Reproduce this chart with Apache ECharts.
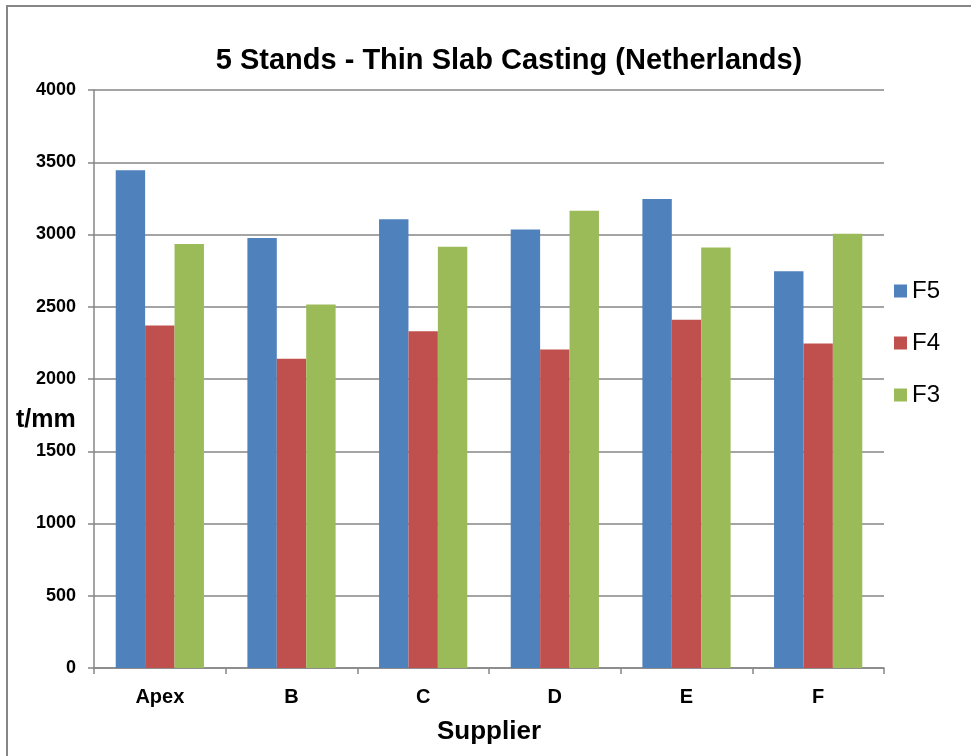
<!DOCTYPE html>
<html>
<head>
<meta charset="utf-8">
<script src="https://cdn.jsdelivr.net/npm/echarts@6/dist/echarts.min.js"></script>
<style>html,body{margin:0;padding:0;background:#fff}#c{width:971px;height:756px}</style>
</head>
<body>
<div id="c"></div>
<script>
const categories = ['Apex', 'B', 'C', 'D', 'E', 'F'];
const f5 = [3445, 2975, 3105, 3035, 3245, 2745];
const f4 = [2370, 2140, 2330, 2205, 2410, 2245];
const f3 = [2935, 2515, 2915, 3165, 2910, 3005];
const yTicks = [0, 500, 1000, 1500, 2000, 2500, 3000, 3500, 4000];

const chart = echarts.init(document.getElementById('c'), null, {renderer: 'canvas'});
const font = 'Arial, "Liberation Sans", sans-serif';
chart.setOption({
  animation: false,
  backgroundColor: '#fff',
  title: {
    text: '5 Stands - Thin Slab Casting (Netherlands)',
    left: 509, top: 46, textAlign: 'center', padding: 0,
    textStyle: {fontFamily: font, fontWeight: 'bold', fontSize: 29, color: '#000'}
  },
  legend: {
    orient: 'vertical', left: 894, top: 279, padding: 0,
    itemWidth: 13, itemHeight: 13, itemGap: 28,
    icon: 'rect',
    textStyle: {fontFamily: font, fontSize: 24, color: '#000', lineHeight: 24},
    data: ['F5', 'F4', 'F3']
  },
  grid: {left: 94, right: 87, top: 90, bottom: 88, containLabel: false},
  xAxis: {
    type: 'category', data: categories,
    name: 'Supplier', nameLocation: 'middle', nameGap: 51,
    nameTextStyle: {fontFamily: font, fontWeight: 'bold', fontSize: 26, color: '#000'},
    axisLine: {lineStyle: {color: '#868686', width: 1.5}},
    axisTick: {show: true, length: 6, lineStyle: {color: '#868686', width: 1.5}},
    axisLabel: {fontFamily: font, fontWeight: 'bold', fontSize: 20, color: '#000', margin: 19}
  },
  yAxis: {
    type: 'value', min: yTicks[0], max: yTicks[yTicks.length - 1], interval: 500,
    axisLine: {show: true, lineStyle: {color: '#868686', width: 1.5}},
    axisTick: {show: true, length: 6, lineStyle: {color: '#868686', width: 1.5}},
    axisLabel: {fontFamily: font, fontWeight: 'bold', fontSize: 18, color: '#000', margin: 18,
                formatter: v => String(v)},
    splitLine: {lineStyle: {color: '#868686', width: 1.5}}
  },
  graphic: [
    {type: 'rect', shape: {x: 7, y: 6, width: 1000, height: 800},
     style: {fill: 'none', stroke: '#868686', lineWidth: 2}, silent: true},
    {type: 'text', left: 16, top: 408,
     style: {text: 't/mm', fontFamily: font, fontWeight: 'bold', fontSize: 25, fill: '#000'}}
  ],
  series: [
    {name: 'F5', type: 'bar', data: f5, barGap: '0%', barCategoryGap: '33%',
     itemStyle: {color: '#4F81BD'}},
    {name: 'F4', type: 'bar', data: f4, barGap: '0%', barCategoryGap: '33%',
     itemStyle: {color: '#C0504D'}},
    {name: 'F3', type: 'bar', data: f3, barGap: '0%', barCategoryGap: '33%',
     itemStyle: {color: '#9BBB59'}}
  ]
});
</script>
</body>
</html>
